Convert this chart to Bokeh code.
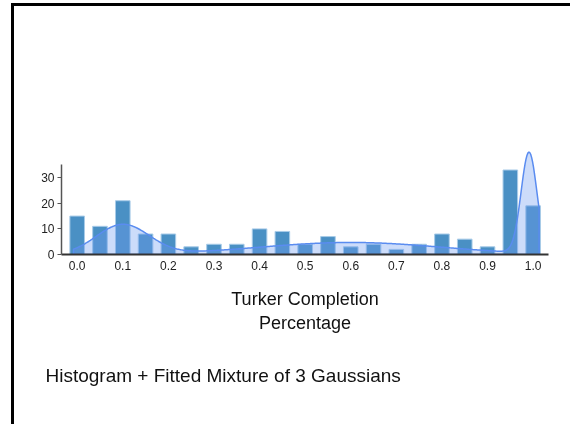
import numpy as np
from bokeh.plotting import figure
from bokeh.models import FixedTicker, PrintfTickFormatter, Title
from bokeh.embed import file_html
from bokeh.resources import INLINE

# Histogram of completion fractions (bin centres and counts)
bin_centers = [0.00, 0.05, 0.10, 0.15, 0.20, 0.25, 0.30, 0.35, 0.40, 0.45, 0.50,
               0.55, 0.60, 0.65, 0.70, 0.75, 0.80, 0.85, 0.90, 0.95, 1.00]
counts = [15, 11, 21, 8, 8, 3, 4, 4, 10, 9, 4, 7, 3, 4, 2, 4, 8, 6, 3, 33, 19]

# Fitted mixture components, scaled to histogram counts
comp_peaks = [11.6, 4.7, 39.3]
comp_means = [0.10, 0.60, 0.991]
comp_sigmas = [0.058, 0.20, 0.0173]

x_ticks = [0.0, 0.1, 0.2, 0.3, 0.4, 0.5, 0.6, 0.7, 0.8, 0.9, 1.0]
y_ticks = [0, 10, 20, 30]

FONT = "Liberation Sans"

xs = np.linspace(-0.008, 1.013, 500)
density = np.zeros_like(xs)
for h, m, s in zip(comp_peaks, comp_means, comp_sigmas):
    density += h * np.exp(-0.5 * ((xs - m) / s) ** 2)

# y range leaves headroom so the tall peak is not clipped; the axis stops at 35
p = figure(width=556, height=418, x_range=(-0.0344, 1.0337), y_range=(0, 41),
           output_backend="svg", toolbar_location=None,
           min_border_left=47, min_border_right=22,
           min_border_top=143, min_border_bottom=170)
p.styles = {"position": "fixed", "left": "14px", "top": "6px",
            "box-shadow": "-3px 0 0 0 black, 0 -3px 0 0 black, -3px -3px 0 0 black"}

p.vbar(x=bin_centers, top=counts, width=0.032, fill_color="#4a90c4",
       line_color="#a8cbe8", line_width=1)

patch_x = np.concatenate([[xs[0]], xs, [xs[-1]]])
patch_y = np.concatenate([[0], density, [0]])
p.patch(patch_x, patch_y, fill_color="#6d9bf0", fill_alpha=0.35,
        line_color="#5a8cf0", line_width=1.5)

p.grid.visible = False
p.outline_line_color = None

p.xaxis.ticker = FixedTicker(ticks=x_ticks)
p.xaxis.formatter = PrintfTickFormatter(format="%.1f")
p.xaxis.major_tick_out = 0
p.xaxis.major_tick_in = 0
p.xaxis.minor_tick_line_color = None
p.xaxis.axis_line_color = "#333333"
p.xaxis.axis_line_width = 2
p.xaxis.major_label_standoff = 6
p.xaxis.axis_label = "Turker Completion\nPercentage"
p.xaxis.axis_label_standoff = 16
p.xaxis.axis_label_text_font = FONT
p.xaxis.axis_label_text_font_size = "18px"
p.xaxis.axis_label_text_font_style = "normal"
p.xaxis.axis_label_text_color = "#111111"

p.yaxis.ticker = FixedTicker(ticks=y_ticks)
p.yaxis.bounds = (0, 35)
p.yaxis.major_tick_out = 4
p.yaxis.major_tick_in = 0
p.yaxis.minor_tick_line_color = None
p.yaxis.axis_line_color = "#555555"
p.yaxis.axis_line_width = 1.5
p.yaxis.major_tick_line_color = "#555555"
p.yaxis.major_label_standoff = 3

for ax in (p.xaxis, p.yaxis):
    ax.major_label_text_font = FONT
    ax.major_label_text_font_size = "12px"
    ax.major_label_text_color = "#222222"

p.add_layout(Title(text="Histogram + Fitted Mixture of 3 Gaussians", align="left",
                   text_font=FONT, text_font_size="19px", text_font_style="normal",
                   text_color="#111111", offset=-16, standoff=54), "below")

open("out.html", "w").write(file_html(p, INLINE))
